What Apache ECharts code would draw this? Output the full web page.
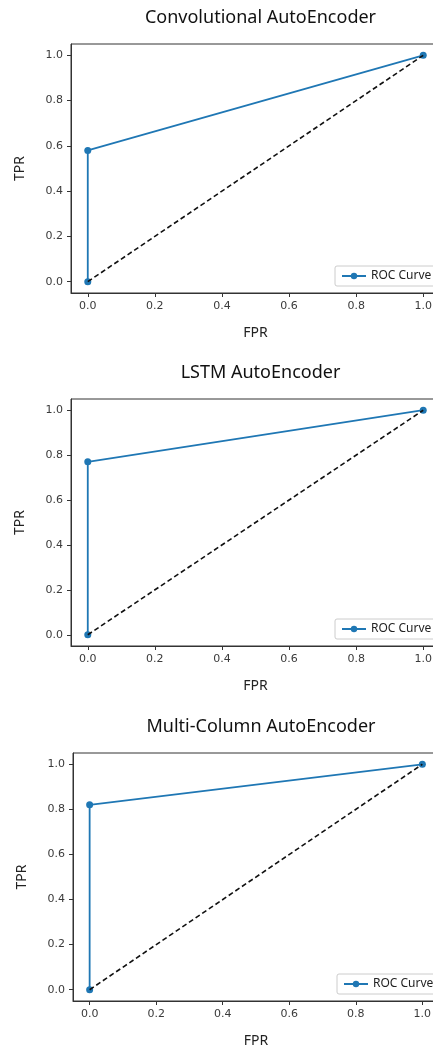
<!DOCTYPE html>
<html>
<head>
<meta charset="utf-8">
<script src="https://cdn.jsdelivr.net/npm/echarts@6/dist/echarts.min.js"></script>
<style>
  html, body { margin: 0; padding: 0; background: #fff; }
  #roc { width: 433px; height: 1045px; }
</style>
</head>
<body>
<div id="roc"></div>
<script>
// three ROC panels, one per model
var titles = ['Convolutional AutoEncoder', 'LSTM AutoEncoder', 'Multi-Column AutoEncoder'];
var rocFpr = [0, 0, 1];
var rocTpr = [
    [0, 0.58, 1],
    [0, 0.77, 1],
    [0, 0.82, 1]
];
var chanceFpr = [0, 1];
var chanceTpr = [0, 1];
var tickValues = [0, 0.2, 0.4, 0.6, 0.8, 1.0];

// panel boxes (px)
var boxes = [
    {left: 71, top: 44, width: 369, height: 249, legendTop: 266},
    {left: 71, top: 399, width: 369, height: 247, legendTop: 619},
    {left: 73, top: 753, width: 366, height: 248, legendTop: 974}
];

var roc = echarts.init(document.getElementById('roc'));

var option = {
    animation: false,
    title: [], grid: [], xAxis: [], yAxis: [], legend: [], series: []
};

function pairs(xs, ys) {
    var out = [];
    for (var i = 0; i < xs.length; i++) out.push([xs[i], ys[i]]);
    return out;
}

function axisCommon(name, gap, labelMargin) {
    return {
        type: 'value',
        min: -0.05,
        max: 1.05,
        name: name,
        nameLocation: 'middle',
        nameGap: gap,
        nameTextStyle: {fontFamily: 'Noto Sans', fontSize: 14, color: '#222'},
        splitLine: {show: false},
        axisLine: {show: true, onZero: false, lineStyle: {color: '#333', width: 1}},
        axisTick: {show: true, length: 4, customValues: tickValues, lineStyle: {color: '#333'}},
        axisLabel: {
            customValues: tickValues,
            fontFamily: 'DejaVu Sans',
            fontSize: 11,
            color: '#3a3a3a',
            margin: labelMargin,
            formatter: function (v) { return v.toFixed(1); }
        }
    };
}

for (var i = 0; i < titles.length; i++) {
    var b = boxes[i];
    option.title.push({
        text: titles[i],
        left: b.left + b.width / 2,
        top: b.top - 40,
        textAlign: 'center',
        textStyle: {fontFamily: 'Noto Sans', fontSize: 18, fontWeight: 'normal', color: '#111'}
    });
    option.grid.push({
        left: b.left, top: b.top, width: b.width, height: b.height,
        outerBoundsMode: 'none',
        containLabel: false,
        show: true, borderColor: '#333', borderWidth: 1, backgroundColor: '#fff'
    });
    var xa = axisCommon('FPR', 33, 8);
    xa.gridIndex = i;
    option.xAxis.push(xa);
    var ya = axisCommon('TPR', 44, 8);
    ya.gridIndex = i;
    option.yAxis.push(ya);
    option.legend.push({
        data: ['ROC Curve'],
        left: b.left + 264,
        top: b.legendTop,
        orient: 'vertical',
        itemWidth: 24,
        itemHeight: 8,
        padding: [4, 6, 4, 6],
        borderColor: '#ccc',
        borderWidth: 1,
        borderRadius: 2,
        backgroundColor: '#fff',
        textStyle: {fontFamily: 'Noto Sans', fontSize: 12, color: '#222'}
    });
    option.series.push({
        name: 'ROC Curve',
        type: 'line',
        xAxisIndex: i,
        yAxisIndex: i,
        data: pairs(rocFpr, rocTpr[i]),
        symbol: 'circle',
        symbolSize: 7,
        color: '#1f77b4',
        lineStyle: {width: 1.8},
        z: 2
    });
    option.series.push({
        name: 'chance',
        type: 'line',
        xAxisIndex: i,
        yAxisIndex: i,
        data: pairs(chanceFpr, chanceTpr),
        symbol: 'none',
        color: '#111',
        lineStyle: {width: 1.6, type: [5, 3]},
        z: 3
    });
}

roc.setOption(option);
</script>
</body>
</html>
